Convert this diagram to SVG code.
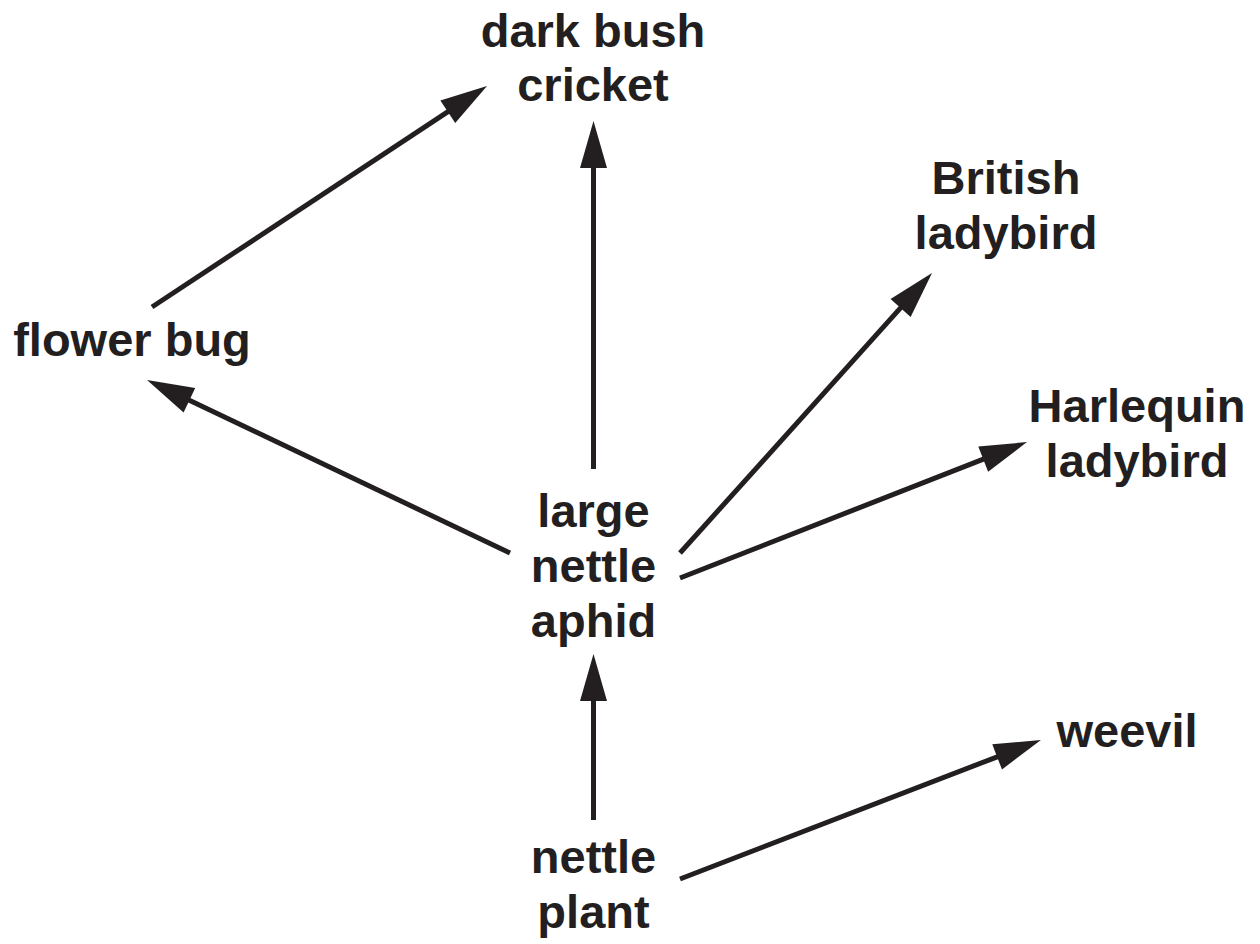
<svg xmlns="http://www.w3.org/2000/svg" width="1260" height="944" viewBox="0 0 1260 944">
<defs>
<style>
.lbl{font-family:"Liberation Sans",Arial,Helvetica,sans-serif;font-weight:bold;font-size:47px;fill:#231f20;text-anchor:middle}
.edge{stroke:#231f20;stroke-width:5;fill:none;marker-end:url(#ah)}
</style>
<marker id="ah" markerUnits="userSpaceOnUse" markerWidth="50" markerHeight="30" viewBox="0 -15 50 30" refX="3" refY="0" orient="auto" overflow="visible">
<path d="M0,-13.5 L47,0 L0,13.5 z" fill="#231f20"/>
</marker>
</defs>
<rect width="1260" height="944" fill="#ffffff"/>
<g id="connectors">
<line class="edge" x1="152" y1="307" x2="450.3" y2="110.2"/>
<line class="edge" x1="593.5" y1="469" x2="593.5" y2="165"/>
<line class="edge" x1="680" y1="553" x2="902.6" y2="305.7"/>
<line class="edge" x1="680" y1="578" x2="986" y2="458.1"/>
<line class="edge" x1="510" y1="553" x2="186.7" y2="398.9"/>
<line class="edge" x1="593.5" y1="820" x2="593.5" y2="698"/>
<line class="edge" x1="680" y1="879" x2="999.9" y2="755.8"/>
</g>
<g id="dark-bush-cricket"><text class="lbl" x="593" y="47">dark bush</text><text class="lbl" x="593" y="101">cricket</text></g>
<g id="british-ladybird"><text class="lbl" x="1006" y="194">British</text><text class="lbl" x="1006" y="249">ladybird</text></g>
<g id="flower-bug"><text class="lbl" x="132" y="356">flower bug</text></g>
<g id="harlequin-ladybird"><text class="lbl" x="1137" y="422">Harlequin</text><text class="lbl" x="1137" y="477">ladybird</text></g>
<g id="large-nettle-aphid"><text class="lbl" x="593.5" y="527">large</text><text class="lbl" x="593.5" y="582">nettle</text><text class="lbl" x="593.5" y="637">aphid</text></g>
<g id="weevil"><text class="lbl" x="1127" y="747">weevil</text></g>
<g id="nettle-plant"><text class="lbl" x="593.5" y="873">nettle</text><text class="lbl" x="593.5" y="928">plant</text></g>
</svg>
